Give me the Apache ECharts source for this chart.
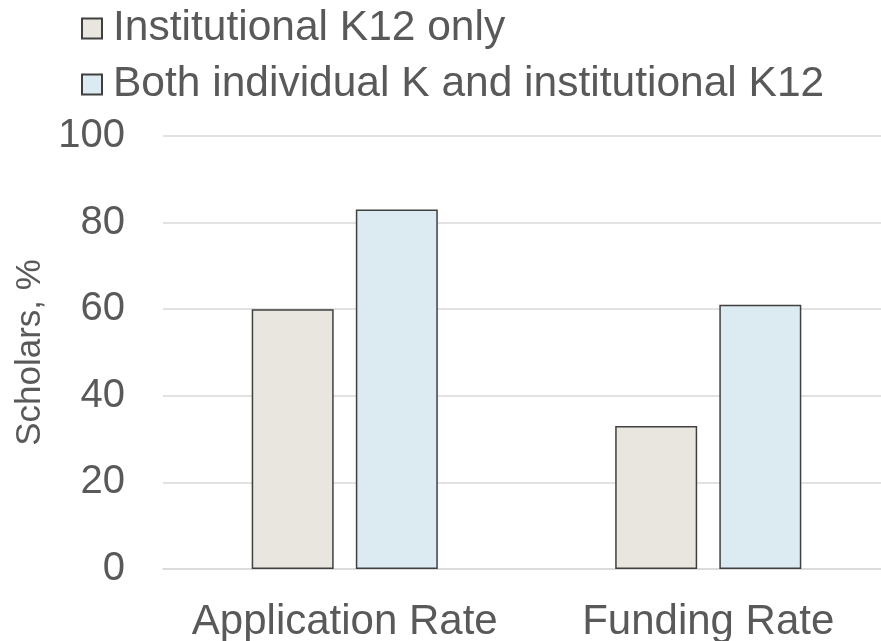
<!DOCTYPE html>
<html>
<head>
<meta charset="utf-8">
<script src="https://cdn.jsdelivr.net/npm/echarts@6/dist/echarts.min.js"></script>
<style>html,body{margin:0;padding:0;background:#fff}#c{width:881px;height:641px}</style>
</head>
<body>
<div id="c"></div>
<script>
const categories = ['Application Rate', 'Funding Rate'];
const seriesNames = ['Institutional K12 only', 'Both individual K and institutional K12'];
const institutionalOnly = [60, 33];
const bothKandK12 = [83, 61];
const yTicks = { min: 0, max: 100, interval: 20 };
const colors = ['#e9e6df', '#dcebf1'];

const chart = echarts.init(document.getElementById('c'), null, { renderer: 'canvas' });
const font = '"Liberation Sans", Arial, sans-serif';
const txt = '#595959';
chart.setOption({
  animation: false,
  textStyle: { fontFamily: font },
  grid: { left: 163, right: -9, top: 136, bottom: 72, containLabel: false, outerBoundsMode: 'none' },
  legend: {
    orient: 'vertical', left: 76, top: 2,
    itemWidth: 20, itemHeight: 20, itemGap: 13,
    icon: 'rect',
    textStyle: { fontSize: 42.5, color: txt, fontFamily: font, padding: [0,0,0,6] },
    data: seriesNames
  },
  xAxis: {
    type: 'category', data: categories,
    axisLine: { lineStyle: { color: '#d9d9d9', width: 1.5 } },
    axisTick: { show: false },
    axisLabel: { interval: 0, fontSize: 42, color: txt, margin: 32, fontFamily: font }
  },
  yAxis: {
    type: 'value', min: yTicks.min, max: yTicks.max, interval: yTicks.interval,
    name: 'Scholars, %', nameLocation: 'middle', nameRotate: 90, nameGap: 111,
    nameTextStyle: { fontSize: 35, color: txt, fontFamily: font },
    axisLine: { show: false }, axisTick: { show: false },
    splitLine: { lineStyle: { color: '#d9d9d9', width: 1.5 } },
    axisLabel: { fontSize: 40, color: txt, margin: 38, fontFamily: font }
  },
  series: [
    { name: seriesNames[0], type: 'bar', data: institutionalOnly, barGap: '27%', barCategoryGap: '48.8%',
      itemStyle: { color: colors[0], borderColor: '#404040', borderWidth: 1.5 } },
    { name: seriesNames[1], type: 'bar', data: bothKandK12, barGap: '27%', barCategoryGap: '48.8%',
      itemStyle: { color: colors[1], borderColor: '#404040', borderWidth: 1.5 } }
  ]
});
</script>
</body>
</html>
